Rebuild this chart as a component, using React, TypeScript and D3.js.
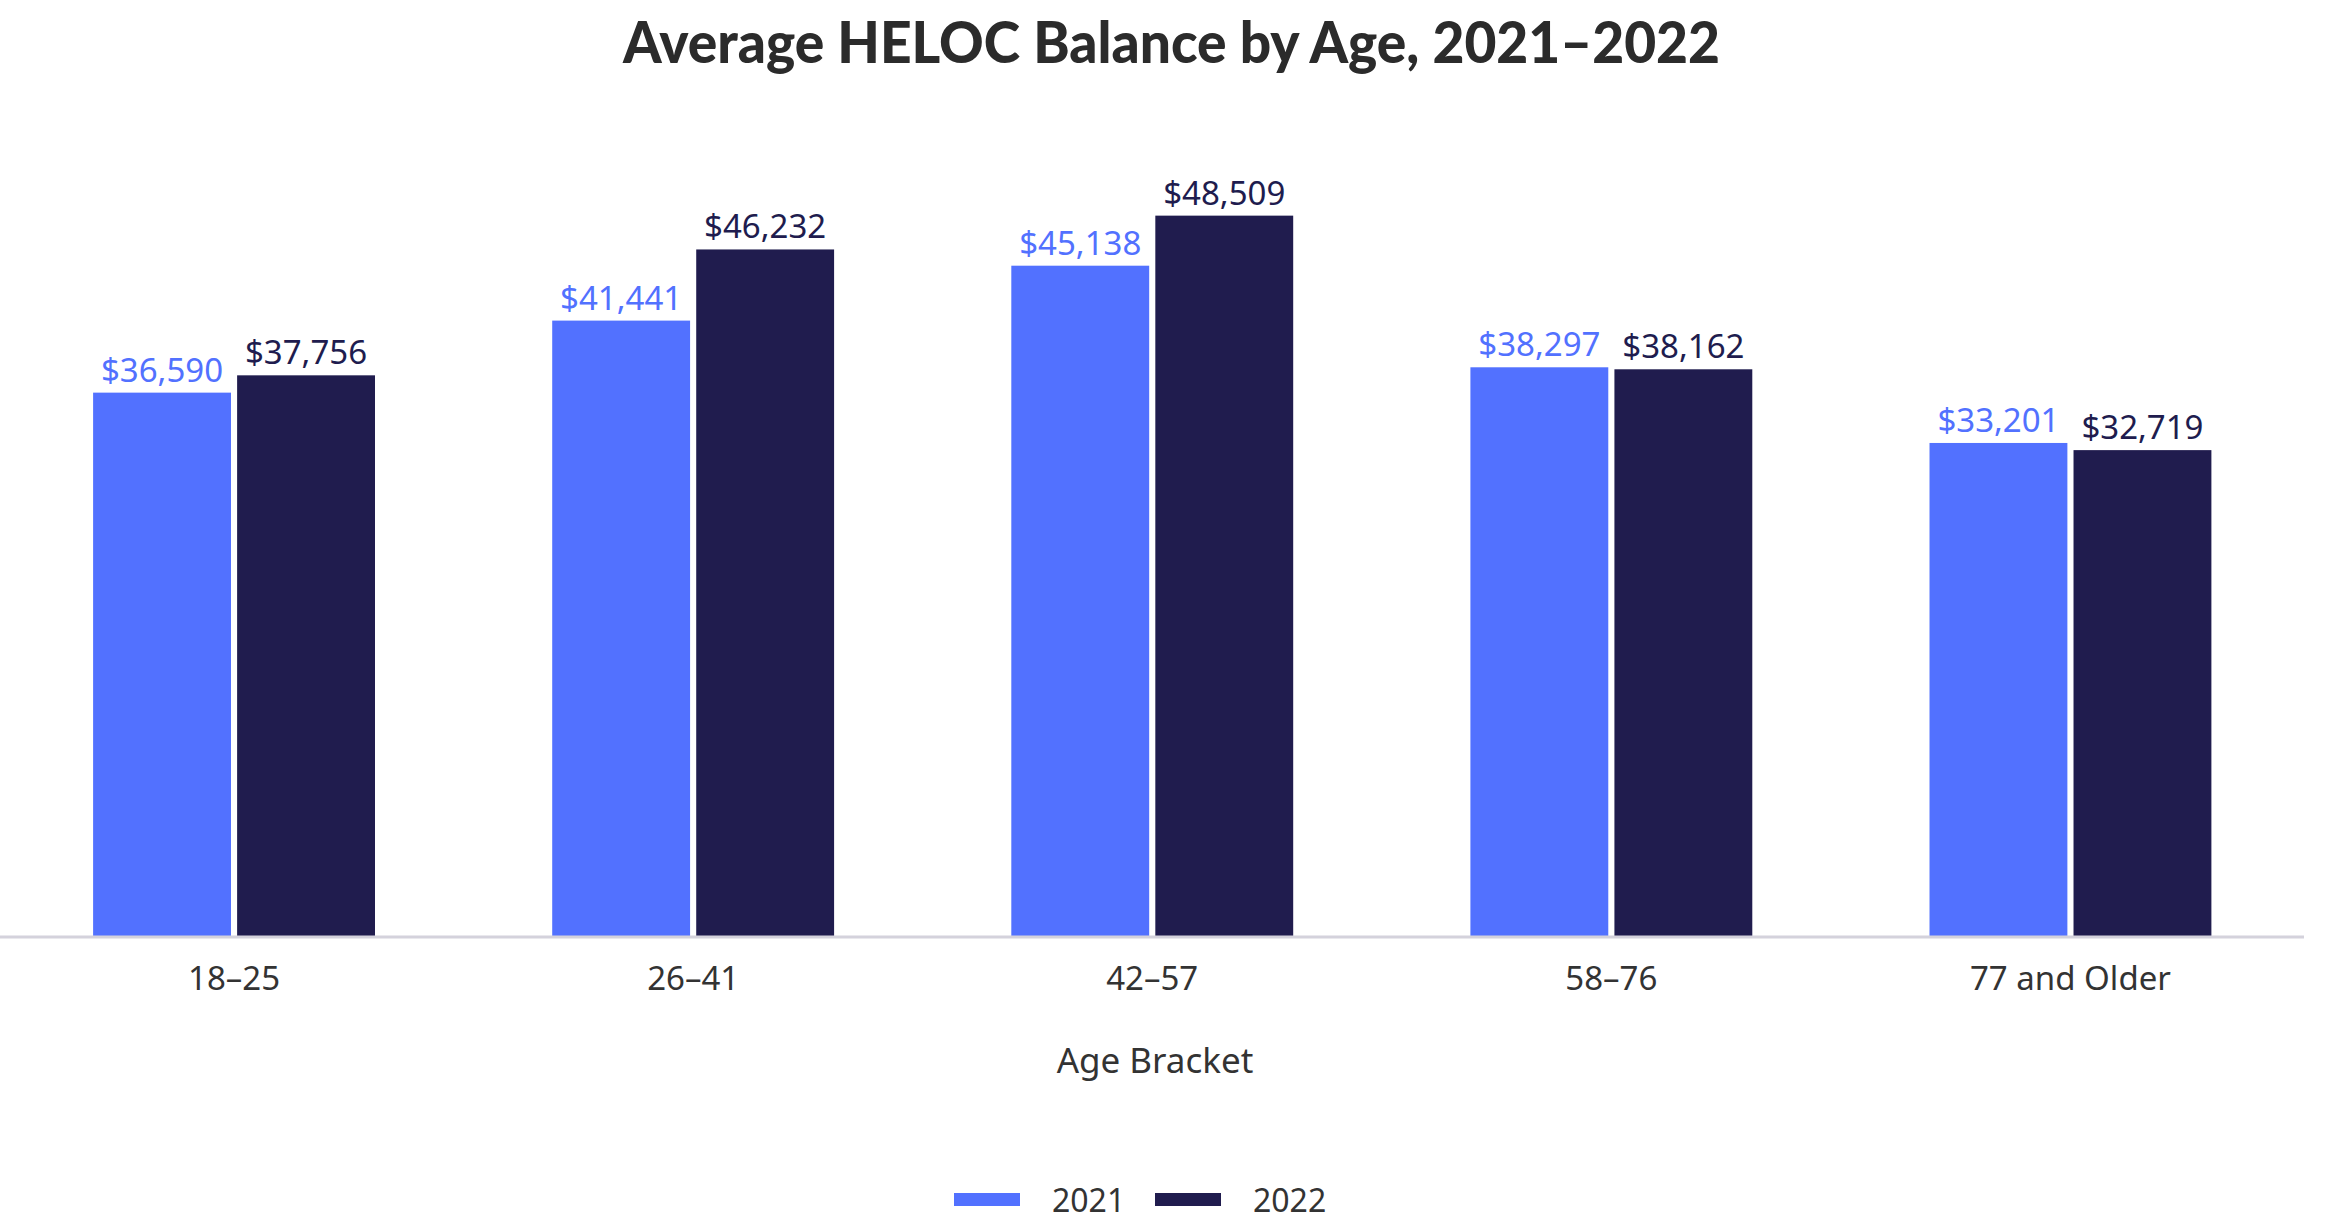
import React from "react";
import * as d3 from "d3";

const categories = ["18–25", "26–41", "42–57", "58–76", "77 and Older"];
const years = ["2021", "2022"];
const values2021 = [36590, 41441, 45138, 38297, 33201];
const values2022 = [37756, 46232, 48509, 38162, 32719];
const colors = ["#5271FF", "#201C4E"];
const labelColors = ["#5271FF", "#201C4E"];

const W = 2340;
const H = 1230;

export default function App() {
  const series = [values2021, values2022];
  const x = d3
    .scaleBand<string>()
    .domain(categories)
    .range([4.5, 2300])
    .paddingInner(0.386)
    .paddingOuter(0.193);
  const xInner = d3
    .scaleBand<string>()
    .domain(years)
    .range([0, x.bandwidth()])
    .paddingInner(0.0426)
    .paddingOuter(0);
  const y = d3.scaleLinear().domain([0, 50000]).range([936, 193.5]);
  const fmt = d3.format("$,");
  const font = "'Noto Sans', sans-serif";

  return (
    <svg width={W} height={H} style={{ display: "block", position: "absolute", left: 0, top: 0 }}>
      <rect width={W} height={H} fill="#fff" />
      <text
        x={623}
        y={63}
        fontFamily="Lato, sans-serif"
        fontWeight={900}
        fontSize={58}
        fill="#2b2b2b"
        textLength={1097}
        lengthAdjust="spacingAndGlyphs"
      >
        Average HELOC Balance by Age, 2021–2022
      </text>
      {categories.map((c, i) => (
        <g key={c} transform={`translate(${x(c)},0)`}>
          {years.map((yr, j) => {
            const v = series[j][i];
            const bx = xInner(yr)!;
            const bw = xInner.bandwidth();
            return (
              <g key={yr}>
                <rect x={bx} y={y(v)} width={bw} height={y(0) - y(v)} fill={colors[j]} />
                <text
                  x={bx + bw / 2}
                  y={y(v) - 11}
                  textAnchor="middle"
                  fontFamily={font}
                  fontSize={33}
                  fill={labelColors[j]}
                >
                  {fmt(v)}
                </text>
              </g>
            );
          })}
          <text
            x={x.bandwidth() / 2}
            y={990}
            textAnchor="middle"
            fontFamily={font}
            fontSize={33}
            fill="#333"
          >
            {c}
          </text>
        </g>
      ))}
      <line x1={0} x2={2304} y1={937} y2={937} stroke="#d4d2dc" strokeWidth={3} />
      <text x={1155} y={1073} textAnchor="middle" fontFamily={font} fontSize={35} fill="#333">
        Age Bracket
      </text>
      {years.map((yr, j) => (
        <g key={yr} transform={`translate(${954 + j * 201},0)`}>
          <rect x={0} y={1193} width={66} height={13} fill={colors[j]} />
          <text x={98} y={1212} fontFamily={font} fontSize={32} fill="#333">
            {yr}
          </text>
        </g>
      ))}
    </svg>
  );
}
